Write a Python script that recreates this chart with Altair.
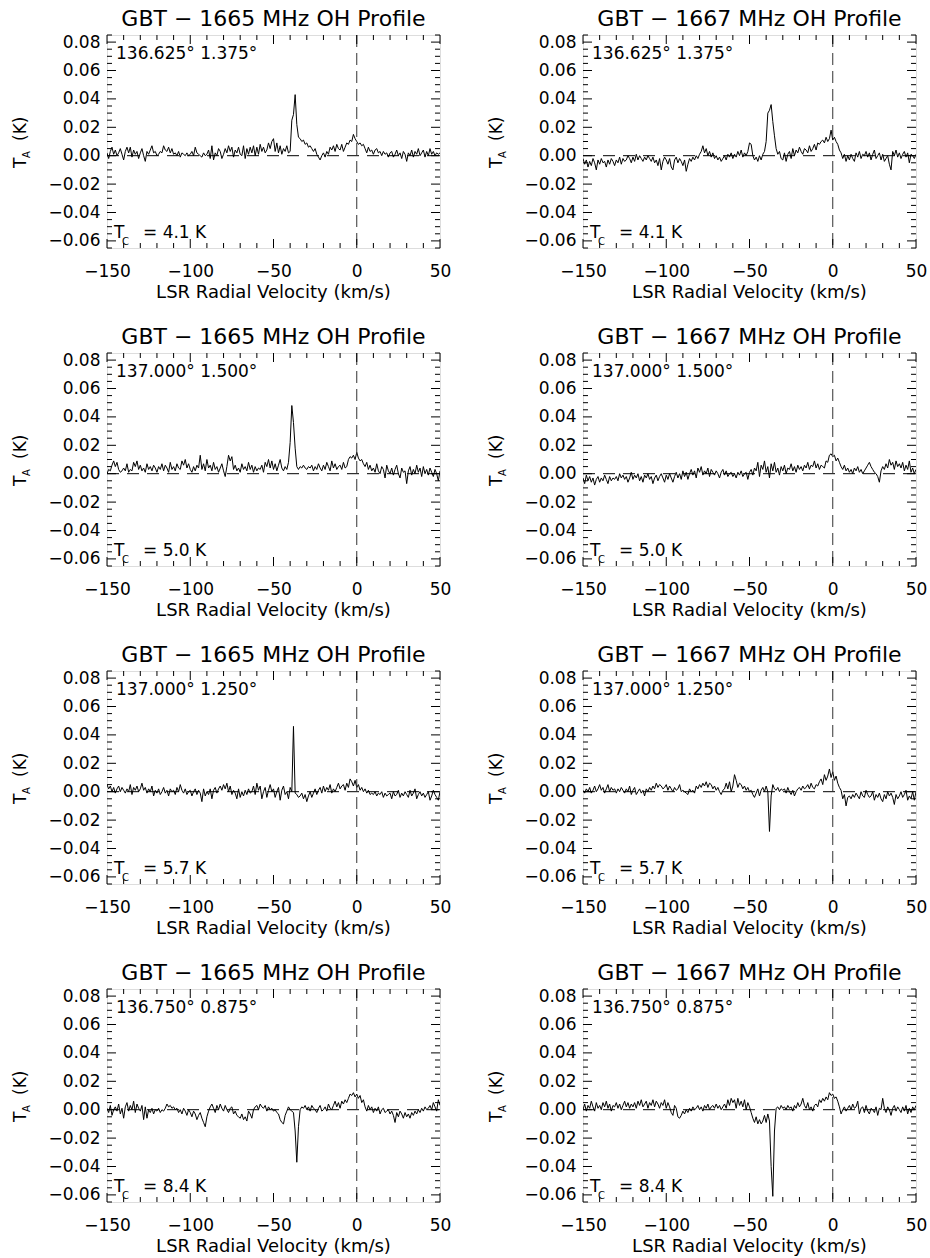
import altair as alt
import pandas as pd

# Channel velocities (km/s), 1 km/s channels
VEL = list(range(-150, 51))

# Antenna temperature spectra in mK, one value per channel (-150 ... +50 km/s)
S1665_A = [
    2, -2, 3, 6, 1, 4, 0, 2, 5, 1,
    -3, 3, 6, 2, 6, -1, 4, 1, 3, -2,
    2, 5, 0, -4, 3, 1, 4, 7, 2, 3,
    0, 1, 3, 2, 7, 4, 3, 6, 2, 5,
    1, 2, 0, 3, -1, 2, 1, 0, 2, 0,
    1, 3, 0, 6, 2, 1, 0, -1, 2, 0,
    1, 4, -2, 7, -3, 2, 0, 5, 3, -2,
    1, 5, 2, 7, 3, 6, -1, 4, 2, 6,
    1, 0, 7, -2, 5, 1, 6, 2, 7, 0,
    6, 1, 8, 3, 6, 2, 4, 9, 5, 10,
    12, 3, 9, 2, 7, 1, 5, 3, 7, 2,
    3, 25, 29, 43, 22, 13, 12, 10, 11, 8,
    9, 6, 7, 5, 3, 5, 1, -1, -3, 0,
    2, -1, 3, 1, 6, 4, 7, 3, 8, 5,
    4, 8, 3, 6, 9, 8, 11, 10, 15, 12,
    10, 8, 9, 7, 8, 5, 2, 6, 3, 4,
    1, 4, 5, 2, 3, 0, 3, 1, 2, -1,
    2, 3, -1, 1, 4, 0, 2, -2, 3, 1,
    -4, 2, 0, 4, -1, 3, 1, 5, 0, 2,
    4, -1, 3, 0, 5, 1, 3, 0, 2, 1,
    2]

S1667_A = [
    -2, -6, -3, -8, -4, -7, -2, -5, -10, -3,
    -6, -2, -5, -4, -8, -3, -6, -2, -4, -7,
    -3, -5, -1, -6, -2, -4, -3, 0, -2, -5,
    -1, -4, 1, -3, 0, -2, -4, -1, -3, 0,
    -2, -4, -1, -5, -3, -7, -2, -10, -4, -1,
    -3, -6, -2, -8, -10, -3, -1, -5, -2, -4,
    -7, -3, -11, -6, -2, -4, -1, -3, 0, -2,
    1, 3, 7, 2, 5, 0, 3, -1, 2, -2,
    0, -3, -1, -4, -2, 0, -3, 1, -1, 2,
    -2, 1, -1, 3, 0, 4, -1, 2, 0, 3,
    9, 8, 0, -3, -1, -4, 0, -3, 1, 3,
    10, 30, 32, 36, 24, 14, 5, 1, 3, -2,
    -3, 2, -4, 1, 3, -2, 5, 0, 4, 2,
    6, 3, 1, 5, 4, 2, 7, 3, 5, 8,
    4, 9, 8, 10, 11, 9, 13, 10, 12, 18,
    11, 13, 10, 8, 4, 2, -2, 1, -4, 0,
    -3, 1, -2, -4, 2, -1, 3, -2, 1, 0,
    3, -1, 2, -3, 1, 4, -2, 0, 2, -3,
    1, -4, -2, 0, -6, -10, 3, 0, 4, -1,
    2, -2, 1, 3, -1, 2, -5, 1, 0, -2,
    1]

S1665_B = [
    0, 3, 2, 6, 9, 5, 8, 3, 1, 2,
    4, 2, 7, 1, 3, 2, 8, 5, 9, 3,
    6, 2, 4, 1, 7, 3, 5, 2, 6, 4,
    1, 5, 3, 7, 2, 6, 4, 1, 8, 3,
    5, 2, 7, 4, 3, 9, 6, 10, 4, 7,
    3, 1, 5, 2, 6, 4, 13, 3, 7, 2,
    10, 4, 6, 2, 8, 3, 5, 1, 4, 7,
    2, -2, 5, 13, 9, 12, 3, 6, 2, 4,
    1, 7, 3, 5, 2, 8, 3, 6, 1, 5,
    2, 4, 3, 6, 1, 8, 5, 10, 4, 9,
    3, 7, 2, 6, 10, 4, 2, 5, 3, 8,
    22, 48, 36, 18, 5, 3, 5, 4, 6, 4,
    3, 5, 4, 6, 2, 5, 3, 7, 4, 2,
    6, 3, 8, 5, 2, 9, 4, 7, 3, 5,
    6, 3, 8, 4, 5, 10, 12, 11, 13, 10,
    15, 11, 9, 10, 7, 5, 8, 3, 6, 2,
    4, 1, 7, 2, 0, 5, 3, -3, 6, 2,
    0, 4, -1, 3, 6, 0, -3, 4, 1, 2,
    -7, 2, 5, -1, 3, 0, 6, 1, 4, -2,
    5, 0, 3, -1, 4, 1, -2, 3, 0, -5,
    2]

S1667_B = [
    -3, -7, -1, -5, -2, -6, -3, -8, -4, -2,
    -6, -3, -5, -1, -4, -7, -2, -5, -3, -4,
    -2, -5, 0, -3, -1, -4, -2, -6, -3, 1,
    -4, -1, -3, 0, -5, -2, -6, -1, -3, 0,
    -4, -2, -7, -3, -1, -5, -2, 0, -3, -6,
    -1, -4, 0, -3, -6, -2, 1, -3, 0, -4,
    2, -2, 1, -4, 0, 3, -1, 2, -3, 4,
    1, 5, -1, 2, 0, 4, -2, 3, 1, -1,
    2, 0, -3, 1, 3, -1, 2, -2, 0, 1,
    -2, 0, -3, 1, -1, 2, -2, 0, 1, -4,
    1, 3, -1, 4, 2, 8, -2, 6, 3, 9,
    1, 5, -3, 7, 2, 8, 1, 4, -1, 5,
    2, 6, 0, 4, 3, 7, 2, 5, 1, 6,
    3, 5, 2, 6, 4, 8, 3, 6, 5, 9,
    4, 7, 3, 6, 5, 4, 9, 8, 13, 14,
    12, 13, 9, 11, 8, 5, 3, 6, 2, 4,
    1, 3, 0, 4, 2, 5, 1, 3, 0, 2,
    4, 6, 8, 5, 3, 1, 0, -2, -6, 2,
    5, 3, 7, 4, 10, 6, 8, 3, 9, 5,
    7, 4, 8, 2, 6, 3, 9, 1, 4, 0,
    3]

S1665_C = [
    5, 2, 4, 0, 3, -1, 2, 4, 0, 3,
    1, -1, 2, 0, 5, -2, 3, 1, 4, 0,
    2, 6, 1, 3, -1, 2, 0, 4, -3, 1,
    -1, 2, -2, 0, 3, -1, 1, -3, 2, 0,
    1, -2, 3, 0, 5, 1, -1, 2, -2, 0,
    1, -3, 0, 2, -2, 1, -1, -7, 2, -3,
    0, -2, 2, -5, 1, 3, -1, 2, 4, 1,
    5, 2, 6, 0, 4, -2, 1, -1, -5, 2,
    -4, 0, -3, 1, -2, 2, -1, 0, 4, -2,
    6, 1, 4, -5, 0, 3, -4, 1, 5, 0,
    2, -4, 0, 3, -6, 1, 4, -2, 0, -5,
    3, 0, 46, -1, -2, -4, -3, -1, -5, -2,
    -7, -3, 0, -4, -1, 2, -2, 1, 3, -1,
    4, 0, 3, 1, 5, -1, 2, 0, 3, 6,
    2, 4, 5, 1, 6, 3, 9, 7, 4, 8,
    3, 5, 1, 3, 0, 2, -1, 1, -2, -1,
    -2, 0, -3, -1, -2, 0, -4, -1, -3, -2,
    -1, -5, 0, -3, -2, 1, -4, -1, -3, 0,
    -2, -4, 1, -3, -1, 2, -5, -2, 0, -3,
    -1, -4, -2, 0, -6, -3, 1, -2, -4, -6,
    0]

S1667_C = [
    1, -1, 2, 0, 3, -1, 1, 4, 0, 2,
    5, 1, 3, -1, 2, 5, 0, 3, 1, 2,
    -1, 2, 0, 3, 1, -1, 2, 0, 4, -2,
    1, 3, -2, 0, 2, -1, 1, -3, 2, 0,
    3, 1, 4, 2, 6, 3, 5, 4, 2, 3,
    5, 1, 4, 2, 0, 3, 1, 2, 5, 0,
    1, 0, -1, -2, 2, 0, 1, -1, 4, 2,
    5, 3, 6, 4, 7, 3, 6, 5, 2, 4,
    1, 3, 0, -2, 1, 2, 6, 2, 7, 0,
    4, 12, 8, 3, 6, 5, 2, 4, 1, 3,
    0, 1, -2, -4, -1, 2, -3, 1, 3, 0,
    4, 0, -28, -3, 5, 2, 1, 3, 0, 2,
    1, 2, -1, 3, 0, -2, 1, -3, 0, 2,
    3, 1, 4, 2, 3, 5, 2, 6, 3, 2,
    5, 4, 7, 9, 5, 12, 8, 11, 16, 10,
    14, 8, 11, 6, 3, 1, -5, -2, -10, -4,
    -3, -5, -2, -4, -1, -3, -5, 0, -3, -4,
    1, -2, -4, -3, 0, -6, -2, -4, -1, -5,
    -7, -2, -5, 0, -3, -1, -4, -9, -2, -5,
    -3, 0, -4, -2, 1, -6, -3, -5, 0, -6,
    0]

S1665_D = [
    1, -2, 3, -4, 0, 2, -1, 4, -3, 1,
    -6, 2, 5, -1, 3, 0, 6, -2, 4, 1,
    -1, 3, -7, 2, -6, 0, -2, 1, -3, 0,
    -1, 1, -2, 0, -1, 1, 4, 2, 3, 1,
    2, 0, 1, -2, 0, -3, 1, -1, -4, 0,
    -2, -5, -1, -3, -7, -4, -2, -6, -9, -12,
    -5, -1, 2, 4, 1, -2, 3, 0, 4, 1,
    -1, 3, 0, -2, 1, 2, -3, -1, -4, -5,
    -6, -3, -7, -5, -8, -1, -3, -6, 0, 2,
    3, 0, 4, 2, 1, 3, -1, 2, 0, 1,
    -1, 0, -2, -3, -7, -9, -10, -4, -1, 2,
    0, -1, -2, -15, -37, -12, 0, 2, 1, 3,
    0, 2, -1, 3, 1, 0, -2, 1, 3, -1,
    0, 2, -1, 4, 1, 0, 3, 6, 2, 5,
    1, 6, 4, 7, 5, 8, 11, 10, 12, 9,
    11, 8, 10, 5, 7, 2, -1, 3, 0, 2,
    -2, 1, -1, 2, -3, 0, 1, -2, -1, 0,
    -3, -1, -4, -9, -2, -5, -1, -3, -6, -2,
    -5, -3, -6, -2, -4, -1, -3, 0, -2, 1,
    -1, 2, 0, 1, 3, 0, 5, 2, -1, 7,
    3]

S1667_D = [
    0, 4, -1, 3, 1, 6, 2, -1, 5, 1,
    3, 0, 5, 2, 6, 1, 4, -1, 3, 2,
    5, 1, 4, 0, 3, 6, 2, 5, 1, 4,
    2, 5, 1, 6, 3, 7, 2, 4, 6, 1,
    5, 3, 7, 2, 6, 4, 1, 5, 3, 7,
    1, 5, 2, -2, -4, 3, 1, -5, -6, -4,
    -1, -3, 0, -2, 1, -1, 2, 0, 1, 3,
    0, 2, -1, 3, 1, 4, 0, 2, 3, 1,
    4, 1, 3, 0, 2, 4, 1, 7, 3, 8,
    5, 7, 1, 8, 3, 6, 2, 7, 0, 5,
    2, -2, -6, -9, -5, -10, -7, -10, -8, -4,
    -9, -3, -8, -40, -61, -15, 1, 2, 0, 3,
    1, 2, 0, 3, 1, 2, -1, 3, 1, 5,
    2, 4, 8, 3, 1, 5, 0, 2, -1, 3,
    4, 2, 7, 5, 8, 6, 9, 7, 12, 10,
    11, 8, 9, 6, 2, -3, 0, 2, -1, 1,
    3, 0, 4, 1, 2, 6, -3, 1, 2, -2,
    3, -1, -3, 1, 0, -2, 2, -4, 1, 0,
    8, 1, -2, 2, 0, -4, 1, 3, -1, 2,
    0, -2, 2, -1, 3, -3, 1, -2, 2, 0,
    3]

FREQS = ["1665", "1667"]
POSITIONS = ["136.625° 1.375°", "137.000° 1.500°", "137.000° 1.250°", "136.750° 0.875°"]
TCONT = ["4.1", "5.0", "5.7", "8.4"]
SPECTRA = [
    [S1665_A, S1667_A],
    [S1665_B, S1667_B],
    [S1665_C, S1667_C],
    [S1665_D, S1667_D],
]

X_MAJOR = [-150, -100, -50, 0, 50]
X_MINOR = [-140, -130, -120, -110, -90, -80, -70, -60, -40, -30, -20, -10, 10, 20, 30, 40]
Y_MAJOR = [-0.06, -0.04, -0.02, 0.0, 0.02, 0.04, 0.06, 0.08]
Y_MINOR = [-0.065, -0.055, -0.05, -0.045, -0.035, -0.03, -0.025, -0.015, -0.01, -0.005,
           0.005, 0.01, 0.015, 0.025, 0.03, 0.035, 0.045, 0.05, 0.055, 0.065, 0.07, 0.075, 0.085]

W, H = 333, 213
FONT = "DejaVu Sans"
XS = alt.Scale(domain=[-150, 50], nice=False, zero=False)
YS = alt.Scale(domain=[-0.065, 0.085], nice=False, zero=False)
XAX = alt.Axis(values=X_MAJOR, ticks=False, domain=False, grid=False, format="d",
               labelFontSize=17, labelPadding=15, title=None, labelFont=FONT,
               labelColor="black", labelFlush=False)
YAX = alt.Axis(values=Y_MAJOR, ticks=False, domain=False, grid=False, format=".2f",
               labelFontSize=17, labelPadding=7, title=None, labelFont=FONT,
               labelColor="black")


def xenc():
    return alt.X("v:Q", scale=XS, axis=XAX)


def yenc():
    return alt.Y("T:Q", scale=YS, axis=YAX)


def txt(s, x, y, size, align="left", angle=0):
    return alt.Chart(pd.DataFrame({"s": [s]})).mark_text(
        align=align, baseline="alphabetic", font=FONT, fontSize=size,
        color="black", angle=angle
    ).encode(text="s:N", x=alt.value(x), y=alt.value(y))


def panel(row, col, anchor=False):
    spec = SPECTRA[row][col]
    df = pd.DataFrame({"v": VEL, "T": [t / 1000.0 for t in spec]})
    layers = []
    layers.append(
        alt.Chart(df).mark_line(color="black", strokeWidth=1, clip=True)
        .encode(x=xenc(), y=yenc())
    )
    # dashed zero lines
    layers.append(
        alt.Chart(pd.DataFrame({"T": [0.0]})).mark_rule(color="black", strokeWidth=1, strokeDash=[12, 8])
        .encode(y=yenc(), x=alt.value(0), x2=alt.value(W))
    )
    layers.append(
        alt.Chart(pd.DataFrame({"v": [0]})).mark_rule(color="#333333", strokeWidth=1, strokeDash=[12, 6])
        .encode(x=xenc(), y=alt.value(0), y2=alt.value(H))
    )
    # inward ticks on all four sides
    for vals, ln in ((X_MAJOR, 9), (X_MINOR, 5)):
        d = pd.DataFrame({"v": vals})
        layers.append(alt.Chart(d).mark_rule(color="black", strokeWidth=1)
                      .encode(x=xenc(), y=alt.value(H), y2=alt.value(H - ln)))
        layers.append(alt.Chart(d).mark_rule(color="black", strokeWidth=1)
                      .encode(x=xenc(), y=alt.value(0), y2=alt.value(ln)))
    for vals, ln in ((Y_MAJOR, 9), (Y_MINOR, 5)):
        d = pd.DataFrame({"T": vals})
        layers.append(alt.Chart(d).mark_rule(color="black", strokeWidth=1)
                      .encode(y=yenc(), x=alt.value(0), x2=alt.value(ln)))
        layers.append(alt.Chart(d).mark_rule(color="black", strokeWidth=1)
                      .encode(y=yenc(), x=alt.value(W), x2=alt.value(W - ln)))
    # texts
    layers.append(txt(f"GBT − {FREQS[col]} MHz OH Profile", W / 2, -9, 22, align="center"))
    layers.append(txt(POSITIONS[row], 9, 24, 17))
    layers.append(txt("T", 7, 203, 17))
    layers.append(txt("C", 15, 210, 10))
    layers.append(txt("=  " + TCONT[row] + "  K", 36, 203, 17))
    layers.append(txt("LSR Radial Velocity (km/s)", W / 2, 263, 18, align="center"))
    layers.append(txt("T", -81, 133, 17, angle=270))
    layers.append(txt("A", -77, 123, 10, angle=270))
    layers.append(txt("(K)", -81, 106, 17, angle=270))
    if anchor:
        layers.append(
            alt.Chart(pd.DataFrame({"a": [0]})).mark_rule(strokeOpacity=0, strokeWidth=0.01)
            .encode(x=alt.value(-106), x2=alt.value(-106), y=alt.value(-34), y2=alt.value(-33))
        )
    return alt.layer(*layers).properties(width=W, height=H)


for r in SPECTRA:
    for s in r:
        assert len(s) == len(VEL), len(s)

panels = [panel(r, c, anchor=(r == 0 and c == 0)) for r in range(4) for c in range(2)]

chart = alt.concat(
    *panels, columns=2, spacing={"row": 105, "column": 143}, bounds="flush"
).properties(
    padding={"left": 0, "top": 0, "right": 0, "bottom": 0}, background="white"
).configure_view(
    stroke="black", strokeWidth=1
).configure(font=FONT)

chart.save("out.html", embed_options={"renderer": "svg", "actions": False})
